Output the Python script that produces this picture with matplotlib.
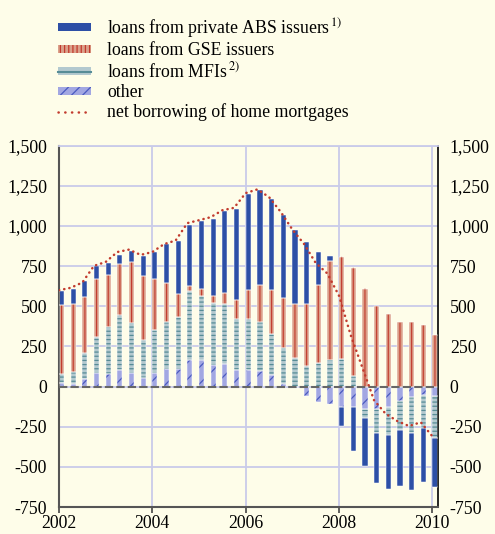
import numpy as np
import matplotlib.pyplot as plt
from matplotlib.patches import Patch
from matplotlib.lines import Line2D

plt.rcParams['font.family'] = ['Liberation Serif', 'DejaVu Serif']
plt.rcParams['mathtext.fontset'] = 'stix'
plt.rcParams['hatch.linewidth'] = 0.9

# quarterly data, Q1 2002 .. Q1 2010 (USD billions, annualised)
quarters = np.arange(2002, 2010.01, 0.25)

other = [25, 19, 46, 87, 77, 102, 85, 56, 85, 108, 112, 168, 164, 135, 139, 102,
         106, 94, 73, 17, -12, -60, -97, -110, -125, -126, -140, -138, -126, -92,
         -67, -55, -57]
mfis = [52, 73, 162, 223, 297, 341, 312, 233, 270, 297, 322, 428, 399, 387, 378, 320,
        312, 307, 254, 226, 177, 127, 148, 168, 173, 68, -56, -150, -174, -178,
        -225, -204, -261]
gse_issuers = [430, 421, 351, 359, 320, 320, 378, 399, 314, 237, 142, 32, 46, 45, 67, 120,
               183, 229, 274, 308, 337, 387, 482, 611, 635, 672, 610, 500, 449, 399,
               399, 382, 320]
abs_issuers = [89, 96, 96, 79, 75, 58, 71, 125, 169, 245, 328, 380, 419, 474, 511, 564,
               598, 594, 567, 515, 461, 388, 210, 34, -120, -274, -298, -312, -340, -347,
               -354, -334, -308]
net_borrowing = [600, 615, 648, 752, 776, 838, 853, 820, 838, 887, 910, 1018, 1036, 1055,
                 1098, 1113, 1205, 1228, 1180, 1088, 978, 888, 770, 704, 565, 320, 118,
                 -85, -170, -215, -246, -222, -310]

bg = '#fefde9'
blue = '#2d4fa6'
salmon = '#dba08a'
red = '#c23b2e'
mfi_face = '#b3c9cf'
mfi_hatch = '#578c96'
oth_face = '#a2a7e2'
oth_hatch = '#4a5ac0'
grid_col = '#c9cbea'

fig = plt.figure(figsize=(4.95, 5.34), dpi=100, facecolor=bg)
ax = fig.add_axes([59 / 495, 1 - 507 / 534, 379 / 495, 361.3 / 534], facecolor=bg)

w = 0.11
pos_base = np.zeros(len(quarters))
neg_base = np.zeros(len(quarters))
layers = [(other, oth_face, oth_hatch, '//'),
          (mfis, mfi_face, mfi_hatch, '----'),
          (gse_issuers, salmon, red, None),
          (abs_issuers, blue, blue, None)]
for vals, face, hcol, hatch in layers:
    v = np.array(vals, dtype=float)
    bottom = np.where(v >= 0, pos_base, neg_base)
    ax.bar(quarters, v, width=w, bottom=bottom, align='edge', color=face,
           edgecolor=hcol, linewidth=0, hatch=hatch, zorder=2)
    if face == salmon:
        # thin red line in the middle of the GSE segments
        ax.bar(quarters + w / 2, v, width=0.024, bottom=bottom, color=red,
               linewidth=0, zorder=2.5, snap=False)
    ax.bar(quarters, v, width=w, bottom=bottom, align='edge', fill=False,
           edgecolor='white', linewidth=0.35, zorder=3)
    pos_base += np.clip(v, 0, None)
    neg_base += np.clip(v, None, 0)

ax.axhline(0, color='#666666', lw=1.5, ls=(0, (4, 1.5)), zorder=4)
ax.plot(quarters, net_borrowing, color=red, lw=1.8, ls=(0, (0.1, 2.0)),
        dash_capstyle='round', zorder=5)

ax.set_xlim(2002, 2010.12)
ax.set_ylim(-750, 1500)
yt = list(range(-750, 1501, 250))
ax.set_yticks(yt)
ax.set_yticklabels([f"{t:,}" for t in yt])
ax.set_xticks([2002, 2004, 2006, 2008, 2010])
ax.set_xticklabels(['2002', '2004', '2006', '2008', '2010'])
ax.grid(True, color=grid_col, lw=1.3, zorder=0)
ax.set_axisbelow(True)

ax.tick_params(axis='y', left=False, right=False, labelleft=True, labelright=True,
               labelsize=12.8, pad=5)
ax.tick_params(axis='x', direction='out', length=4, width=1.2, color='#444444',
               labelsize=12.8, pad=2)
for s in ['left', 'bottom']:
    ax.spines[s].set_color('#555555')
    ax.spines[s].set_linewidth(1.5)
ax.spines['right'].set_color('black')
ax.spines['right'].set_linewidth(1.2)
ax.spines['top'].set_color(grid_col)
ax.spines['top'].set_linewidth(1.3)

handles = [
    Patch(facecolor=blue, edgecolor='none'),
    Patch(facecolor=salmon, edgecolor=red, hatch='||||', linewidth=0),
    (Patch(facecolor=mfi_face, edgecolor='none'), Line2D([], [], color=mfi_hatch, lw=1.5)),
    Patch(facecolor=oth_face, edgecolor=oth_hatch, hatch='///', linewidth=0),
    Line2D([], [], color=red, lw=1.8, ls=(0, (0.1, 2.6)), dash_capstyle='round'),
]
labels = ['loans from private ABS issuers$^{\\,1)}$',
          'loans from GSE issuers',
          'loans from MFIs$^{\\,2)}$',
          'other',
          'net borrowing of home mortgages']
fig.legend(handles, labels, loc='upper left', bbox_to_anchor=(58 / 495, 1 - 16 / 534),
           frameon=False, fontsize=12.8, borderpad=0, borderaxespad=0,
           handlelength=1.85, handleheight=0.34, handletextpad=0.9, labelspacing=0.14)

fig.savefig('out.png', dpi=100, facecolor=bg)
